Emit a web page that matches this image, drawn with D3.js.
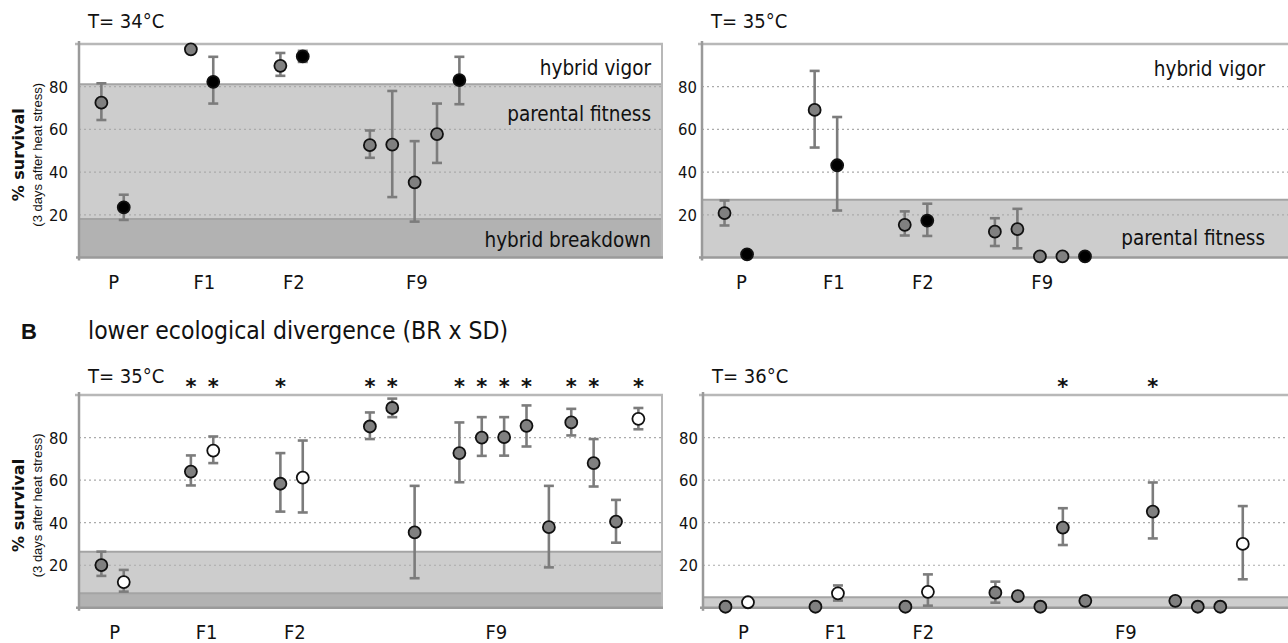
<!DOCTYPE html>
<html>
<head>
<meta charset="utf-8">
<script src="https://cdn.jsdelivr.net/npm/d3@7/dist/d3.min.js"></script>
<style>
  body { margin: 0; background: #fff; }
  svg text { font-family: "DejaVu Sans Condensed", "DejaVu Sans", sans-serif; fill: #111; }
</style>
</head>
<body>
<svg id="chart" width="1288" height="643"></svg>
<script>
// values (% survival, 3 days after heat stress)
const groups = ['P', 'F1', 'F2', 'F9'];
const yTicks = [20, 40, 60, 80];

// A: T = 34 C
const a34Slot = [0, 1, 4, 5, 8, 9, 12, 13, 14, 15, 16];
const a34Kind = ['g', 'b', 'g', 'b', 'g', 'b', 'g', 'g', 'g', 'g', 'b'];
const a34Mean = [72.5, 23.5, 97.5, 82.3, 89.8, 94.2, 52.6, 52.9, 35.2, 57.8, 83.1];
const a34Lo = [64.4, 17.6, null, 72.1, 85.1, 91.6, 46.7, 28.3, 16.8, 44.3, 71.8];
const a34Hi = [81.6, 29.4, null, 94, 95.8, 96.8, 59.5, 78, 54.5, 72.1, 94];
const a34GroupPos = [0.55, 4.6, 8.6, 14.1];
const a34Bands = [{ from: 0, to: 18, kind: 'breakdown' }, { from: 18, to: 81.2, kind: 'parental' }];
const a34Stars = [];

// A: T = 35 C
const a35Slot = [0, 1, 4, 5, 8, 9, 12, 13, 14, 15, 16];
const a35Kind = ['g', 'b', 'g', 'b', 'g', 'b', 'g', 'g', 'g', 'g', 'b'];
const a35Mean = [20.8, 1.5, 69.1, 43.2, 15.3, 17.3, 12.1, 13.3, 0.5, 0.5, 0.5];
const a35Lo = [15, null, 51.5, 22, 10.3, 10.1, 5.4, 4.3, null, null, null];
const a35Hi = [26.7, null, 87.4, 65.8, 21.6, 25.2, 18.4, 22.8, null, null, null];
const a35GroupPos = [0.75, 4.85, 8.8, 14.1];
const a35Bands = [{ from: 0, to: 27, kind: 'parental' }];
const a35Stars = [];

// B: T = 35 C
const b35Slot = [0, 1, 4, 5, 8, 9, 12, 13, 14, 16, 17, 18, 19, 20, 21, 22, 23, 24];
const b35Kind = ['g', 'w', 'g', 'w', 'g', 'w', 'g', 'g', 'g', 'g', 'g', 'g', 'g', 'g', 'g', 'g', 'g', 'w'];
const b35Mean = [20.1, 12.1, 64, 73.9, 58.3, 61.2, 85.2, 93.9, 35.4, 72.7, 80, 80.2, 85.5, 37.9, 87.1, 68, 40.5, 88.8];
const b35Lo = [15, 7.6, 57.5, 68, 45.2, 44.8, 79.3, 89.6, 13.9, 59, 71.4, 71.5, 75.8, 19, 81, 57, 30.6, 83.9];
const b35Hi = [26.4, 17.8, 71.6, 80.5, 72.7, 78.6, 91.8, 98.3, 57.3, 87.1, 89.6, 89.6, 95.1, 57.3, 93.5, 79.3, 50.7, 93.9];
const b35GroupPos = [0.6, 4.7, 8.65, 17.65];
const b35Bands = [{ from: 0, to: 6.8, kind: 'breakdown' }, { from: 6.8, to: 26.3, kind: 'parental' }];
const b35Stars = [4, 5, 8, 12, 13, 16, 17, 18, 19, 21, 22, 24];

// B: T = 36 C
const b36Slot = [0, 1, 4, 5, 8, 9, 12, 13, 14, 15, 16, 19, 20, 21, 22, 23];
const b36Kind = ['g', 'w', 'g', 'w', 'g', 'w', 'g', 'g', 'g', 'g', 'g', 'g', 'g', 'g', 'g', 'w'];
const b36Mean = [0.5, 2.6, 0.5, 6.8, 0.5, 7.5, 7.1, 5.5, 0.5, 37.7, 3.3, 45.2, 3.3, 0.5, 0.5, 30];
const b36Lo = [null, null, null, 3.4, null, 1, 2.4, null, null, 29.5, null, 32.6, null, null, null, 13.4];
const b36Hi = [null, null, null, 10.5, null, 15.7, 12.3, null, null, 46.8, null, 58.9, null, null, null, 47.8];
const b36GroupPos = [0.8, 4.9, 8.8, 17.8];
const b36Bands = [{ from: 0, to: 4.9, kind: 'parental' }];
const b36Stars = [15, 19];

const bandText = { vigor: 'hybrid vigor', parental: 'parental fitness', breakdown: 'hybrid breakdown' };

const panels = [
  { title: 'T= 34\u00b0C', slot: a34Slot, kind: a34Kind, mean: a34Mean, lo: a34Lo, hi: a34Hi,
    gpos: a34GroupPos, bands: a34Bands, stars: a34Stars,
    x0: 79, x1: 663, y0: 257.5, y1: 44, titleY: 28, yTitle: true, tickGap: 11, textEnd: 651,
    notes: [['vigor', 75], ['parental', 121], ['breakdown', 247]] },
  { title: 'T= 35\u00b0C', slot: a35Slot, kind: a35Kind, mean: a35Mean, lo: a35Lo, hi: a35Hi,
    gpos: a35GroupPos, bands: a35Bands, stars: a35Stars,
    x0: 702, x1: 1290, y0: 257.5, y1: 44, titleY: 28, yTitle: false, tickGap: 5, textEnd: 1265,
    notes: [['vigor', 76], ['parental', 245]] },
  { title: 'T= 35\u00b0C', slot: b35Slot, kind: b35Kind, mean: b35Mean, lo: b35Lo, hi: b35Hi,
    gpos: b35GroupPos, bands: b35Bands, stars: b35Stars,
    x0: 79, x1: 663, y0: 607.8, y1: 395, titleY: 383, yTitle: true, tickGap: 11, notes: [] },
  { title: 'T= 36\u00b0C', slot: b36Slot, kind: b36Kind, mean: b36Mean, lo: b36Lo, hi: b36Hi,
    gpos: b36GroupPos, bands: b36Bands, stars: b36Stars,
    x0: 703, x1: 1290, y0: 607.8, y1: 395, titleY: 383, yTitle: false, tickGap: 5, notes: [] }
];

const bandFill = { parental: '#cdcdcd', breakdown: '#b2b2b2' };
const pointFill = { g: '#808080', b: '#000', w: '#fff' };

const svg = d3.select('#chart');

// section B heading
svg.append('text').attr('x', 21).attr('y', 339)
  .style('font-family', 'Liberation Sans, Arial, sans-serif')
  .style('font-weight', 'bold').style('font-size', '22px').text('B');
svg.append('text').attr('x', 88).attr('y', 339)
  .style('font-size', '24.5px').text('lower ecological divergence (BR x SD)');

panels.forEach(p => {
  const x = d3.scaleLinear().domain([-1, 25.1]).range([p.x0, p.x1]);
  const y = d3.scaleLinear().domain([0, 100]).range([p.y0, p.y1]);
  const g = svg.append('g');

  // shaded fitness bands
  g.selectAll('rect.band').data(p.bands).enter().append('rect')
    .attr('x', p.x0).attr('width', p.x1 - p.x0)
    .attr('y', d => y(d.to)).attr('height', d => y(d.from) - y(d.to))
    .attr('fill', d => bandFill[d.kind]);
  g.selectAll('line.bandedge').data(p.bands).enter().append('line')
    .attr('x1', p.x0).attr('x2', p.x1)
    .attr('y1', d => y(d.to)).attr('y2', d => y(d.to))
    .attr('stroke', '#a4a4a4').attr('stroke-width', 2);

  // dotted grid
  g.selectAll('line.grid').data(yTicks).enter().append('line')
    .attr('x1', p.x0).attr('x2', p.x1)
    .attr('y1', d => y(d)).attr('y2', d => y(d))
    .attr('stroke', '#ababab').attr('stroke-width', 1.2)
    .attr('stroke-dasharray', '2,3');

  // frame
  g.append('line').attr('x1', p.x0 - 4).attr('x2', p.x1).attr('y1', p.y1).attr('y2', p.y1)
    .attr('stroke', '#b8b8b8').attr('stroke-width', 2.5);
  g.append('line').attr('x1', p.x1 - 1).attr('x2', p.x1 - 1).attr('y1', p.y1).attr('y2', p.y0)
    .attr('stroke', '#b8b8b8').attr('stroke-width', 2);
  g.append('line').attr('x1', p.x0 - 3).attr('x2', p.x1).attr('y1', p.y0).attr('y2', p.y0)
    .attr('stroke', '#9a9a9a').attr('stroke-width', 2.5);
  g.append('line').attr('x1', p.x0).attr('x2', p.x0).attr('y1', p.y1 - 3).attr('y2', p.y0 + 3)
    .attr('stroke', '#9a9a9a').attr('stroke-width', 2.5);

  // y tick labels
  g.selectAll('text.tick').data(yTicks).enter().append('text')
    .attr('x', p.x0 - p.tickGap).attr('y', d => y(d)).attr('dy', '0.36em')
    .attr('text-anchor', 'end').style('font-size', '16.5px').text(d => d);

  // band annotations
  g.selectAll('text.note').data(p.notes).enter().append('text')
    .attr('x', p.textEnd).attr('y', d => d[1]).attr('text-anchor', 'end')
    .style('font-size', '20.5px').text(d => bandText[d[0]]);

  // generation labels
  g.selectAll('text.grp').data(groups).enter().append('text')
    .attr('x', (d, i) => x(p.gpos[i])).attr('y', p.y0 + 31)
    .attr('text-anchor', 'middle').style('font-size', '20px').text(d => d);

  // panel title
  g.append('text').attr('x', p.x0 + 9).attr('y', p.titleY)
    .style('font-size', '20px').text(p.title);

  // significance stars
  g.selectAll('text.star').data(p.stars).enter().append('text')
    .attr('x', d => x(d)).attr('y', p.y1 - 1)
    .attr('text-anchor', 'middle').style('font-size', '21px').style('font-weight', 'bold')
    .style('font-family', 'DejaVu Sans, sans-serif').text('*');

  if (p.yTitle) {
    const cy = (p.y0 + p.y1) / 2 + 4;
    g.append('text').attr('transform', `translate(24,${cy}) rotate(-90)`)
      .attr('text-anchor', 'middle').style('font-family', 'DejaVu Sans, sans-serif')
      .style('font-weight', 'bold').style('font-size', '16px').text('% survival');
    g.append('text').attr('transform', `translate(42,${cy}) rotate(-90)`)
      .attr('text-anchor', 'middle').style('font-family', 'Liberation Sans, Arial, sans-serif')
      .style('font-size', '13px').text('(3 days after heat stress)');
  }

  // error bars
  const idx = d3.range(p.slot.length).filter(i => p.lo[i] != null);
  const eb = g.selectAll('g.eb').data(idx).enter().append('g')
    .attr('stroke', '#7c7c7c').attr('stroke-width', 2.6);
  eb.append('line').attr('x1', i => x(p.slot[i])).attr('x2', i => x(p.slot[i]))
    .attr('y1', i => y(p.hi[i])).attr('y2', i => y(p.lo[i]));
  eb.append('line').attr('x1', i => x(p.slot[i]) - 5).attr('x2', i => x(p.slot[i]) + 5)
    .attr('y1', i => y(p.hi[i])).attr('y2', i => y(p.hi[i]));
  eb.append('line').attr('x1', i => x(p.slot[i]) - 5).attr('x2', i => x(p.slot[i]) + 5)
    .attr('y1', i => y(p.lo[i])).attr('y2', i => y(p.lo[i]));

  // means
  g.selectAll('circle.pt').data(d3.range(p.slot.length)).enter().append('circle')
    .attr('cx', i => x(p.slot[i])).attr('cy', i => y(p.mean[i]))
    .attr('r', 6)
    .attr('fill', i => pointFill[p.kind[i]])
    .attr('stroke', '#111').attr('stroke-width', 1.8);
});
</script>
</body>
</html>
